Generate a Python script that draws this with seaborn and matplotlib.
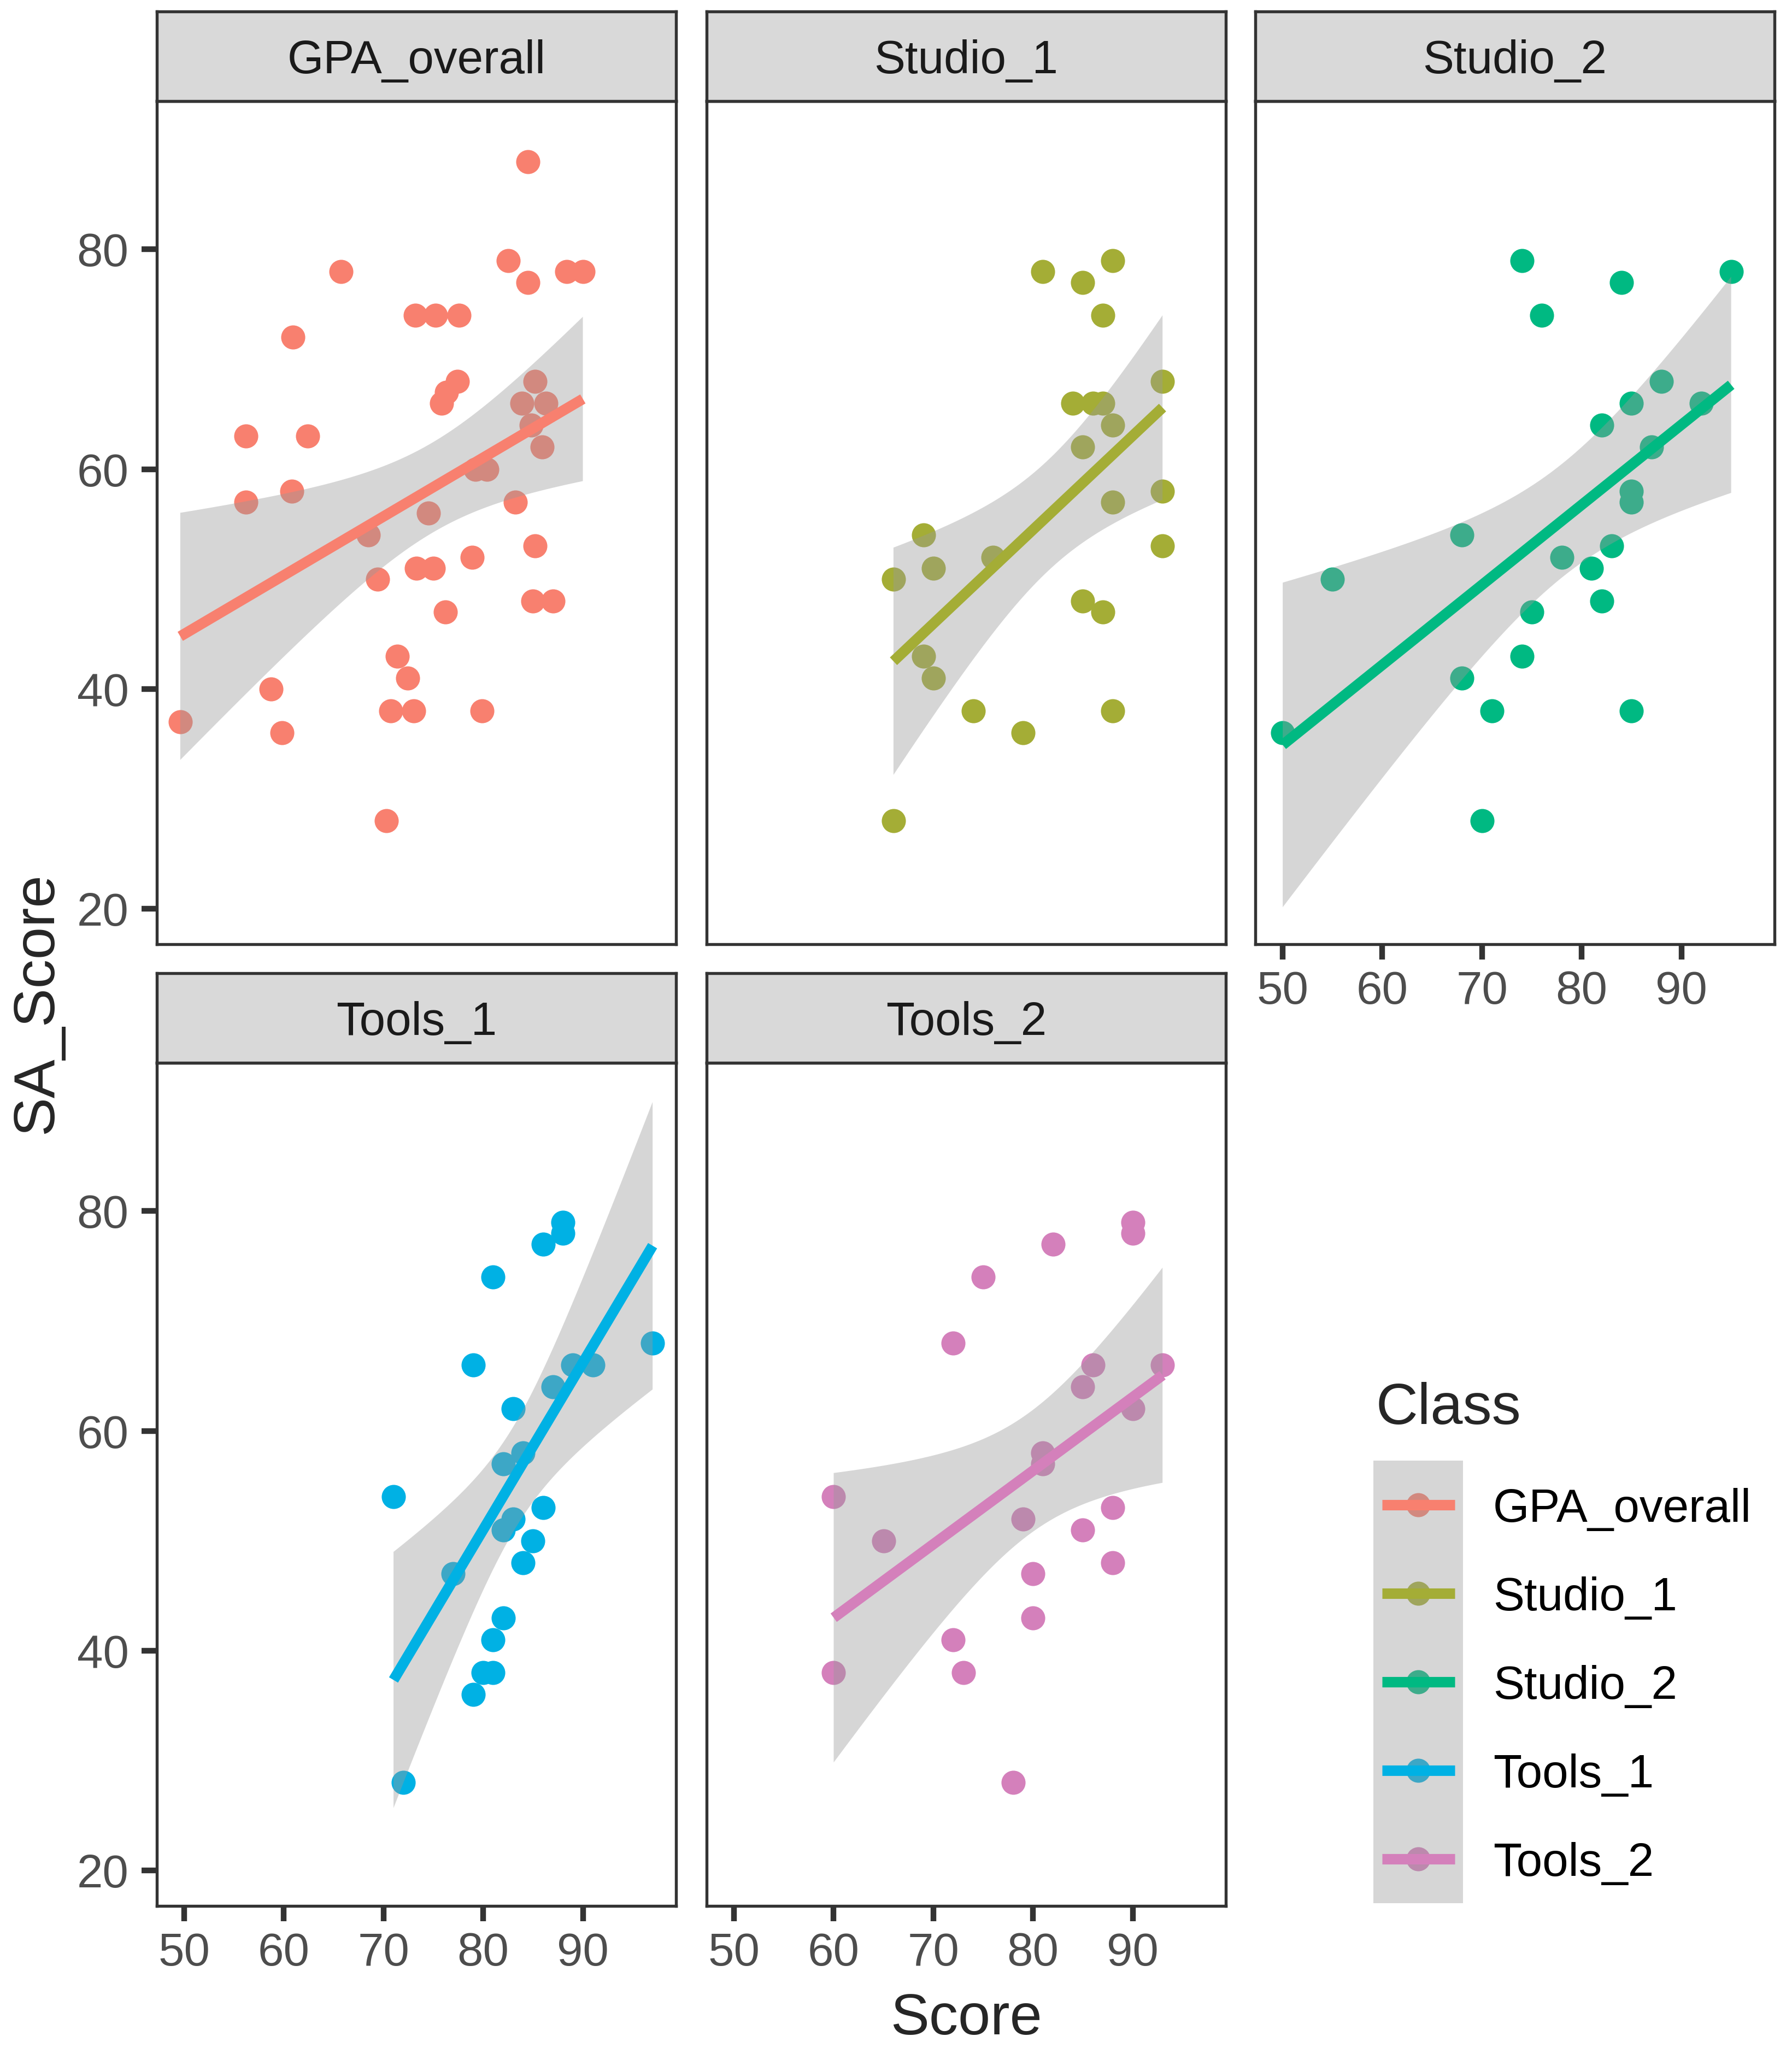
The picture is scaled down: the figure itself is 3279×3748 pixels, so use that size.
import matplotlib.pyplot as plt
import seaborn as sns
import pandas as pd
import numpy as np
from math import gamma, pi, sqrt

classes = ["GPA_overall", "Studio_1", "Studio_2", "Tools_1", "Tools_2"]
colors = ["#F8806F", "#A4AD36", "#00B982", "#00B1E4", "#D480BB"]

gpa_score = [84.5, 65.75, 82.5, 84.5, 88.4, 90.0, 73.2, 75.2, 77.6, 60.9, 77.4,
             76.3, 75.8, 85.2, 83.9, 86.3, 84.8, 85.9, 56.2, 62.4, 79.2, 80.4,
             56.2, 60.8, 83.2, 74.5, 68.5, 69.4, 73.3, 75.0, 78.9, 85.2, 85.0,
             87.0, 76.2, 71.4, 72.4, 70.7, 73.0, 79.9, 58.7, 59.8, 49.6, 70.3]
gpa_sa = [88, 78, 79, 77, 78, 78, 74, 74, 74, 72, 68,
          67, 66, 68, 66, 66, 64, 62, 63, 63, 60, 60,
          57, 58, 57, 56, 54, 50, 51, 51, 52, 53, 48,
          48, 47, 43, 41, 38, 38, 38, 40, 36, 37, 28]

studio1_score = [81, 85, 88, 87, 93, 84, 86, 87, 88, 85, 93, 88, 93,
                 69, 76, 70, 66, 85, 87, 69, 70, 74, 88, 79, 66]
studio1_sa = [78, 77, 79, 74, 68, 66, 66, 66, 64, 62, 58, 57, 53,
              54, 52, 51, 50, 48, 47, 43, 41, 38, 38, 36, 28]

studio2_score = [74, 84, 76, 95, 88, 85, 92, 82, 87, 85, 85, 68,
                 55, 78, 83, 81, 82, 75, 74, 68, 71, 85, 50, 70]
studio2_sa = [79, 77, 74, 78, 68, 66, 66, 64, 62, 58, 57, 54,
              50, 52, 53, 51, 48, 47, 43, 41, 38, 38, 36, 28]

tools1_score = [88, 88, 86, 81, 97, 79, 89, 91, 87, 83, 84, 82, 71,
                86, 83, 82, 85, 84, 77, 82, 81, 80, 81, 79, 72]
tools1_sa = [79, 78, 77, 74, 68, 66, 66, 66, 64, 62, 58, 57, 54,
             53, 52, 51, 50, 48, 47, 43, 41, 38, 38, 36, 28]

tools2_score = [90, 90, 82, 75, 72, 86, 93, 85, 90, 81, 81, 60,
                79, 88, 85, 65, 88, 80, 80, 72, 60, 73, 78]
tools2_sa = [79, 78, 77, 74, 68, 66, 66, 64, 62, 58, 57, 54,
             52, 53, 51, 50, 48, 47, 43, 41, 38, 38, 28]

scores = [gpa_score, studio1_score, studio2_score, tools1_score, tools2_score]
sa_scores = [gpa_sa, studio1_sa, studio2_sa, tools1_sa, tools2_sa]

df = pd.concat(
    [pd.DataFrame({"Score": s, "SA_Score": a, "Class": c})
     for s, a, c in zip(scores, sa_scores, classes)],
    ignore_index=True,
)


def t_quantile(dof, q=0.975):
    # t distribution quantile by integrating the density
    t = np.linspace(0, 12, 40001)
    c = gamma((dof + 1) / 2) / (sqrt(dof * pi) * gamma(dof / 2))
    pdf = c * (1 + t ** 2 / dof) ** (-(dof + 1) / 2)
    cdf = 0.5 + np.concatenate([[0], np.cumsum((pdf[1:] + pdf[:-1]) / 2 * np.diff(t))])
    return np.interp(q, cdf, t)


def lm_band(x, y, grid):
    # analytic 95% confidence band of a linear fit (like geom_smooth(method="lm"))
    x, y = np.asarray(x, float), np.asarray(y, float)
    n = len(x)
    b, a = np.polyfit(x, y, 1)
    resid = y - (a + b * x)
    s = np.sqrt(np.sum(resid ** 2) / (n - 2))
    sxx = np.sum((x - x.mean()) ** 2)
    se = s * np.sqrt(1 / n + (grid - x.mean()) ** 2 / sxx)
    fit = a + b * grid
    tq = t_quantile(n - 2)
    return fit - tq * se, fit + tq * se


sns.set_style("ticks")
plt.rcParams["font.family"] = ["Liberation Sans", "DejaVu Sans"]

g = sns.lmplot(
    data=df, x="Score", y="SA_Score", hue="Class", col="Class", col_wrap=3,
    hue_order=classes, col_order=classes, palette=dict(zip(classes, colors)),
    ci=None, legend=False, height=4, aspect=0.62,
    scatter_kws={"s": 112, "linewidths": 0, "alpha": 1},
    line_kws={"linewidth": 4.6, "solid_capstyle": "butt"},
    facet_kws={"despine": False, "sharex": True, "sharey": True},
)
fig = g.figure
W, H = 3279, 3748
fig.set_size_inches(W / 300, H / 300)

g.set(xlim=(47.25, 99.35), ylim=(16.8, 93.5),
      xticks=[50, 60, 70, 80, 90], yticks=[20, 40, 60, 80])

lefts = [287, 1293, 2297]
tops = [185, 1945]
pw, ph = 950, 1542.5
strip_h = 164

for i, (ax, name) in enumerate(zip(g.axes.flat, classes)):
    r, c = divmod(i, 3)
    ax.set_position([lefts[c] / W, 1 - (tops[r] + ph) / H, pw / W, ph / H])
    ax.set_title("")
    ax.set_xlabel("")
    ax.set_ylabel("")

    # grey confidence ribbon over the points, under the line
    xs, ys = scores[i], sa_scores[i]
    grid = np.linspace(min(xs), max(xs), 100)
    lo, hi = lm_band(xs, ys, grid)
    ax.fill_between(grid, lo, hi, facecolor="#999999", edgecolor="none",
                    alpha=0.4, zorder=1.5)

    ax.tick_params(axis="both", length=6.8, width=2.5, color="#333333",
                   labelcolor="#4D4D4D", labelsize=20.5)
    ax.tick_params(axis="x", pad=4.5)
    ax.tick_params(axis="y", pad=5.5)
    if i in (0, 1):
        ax.tick_params(axis="x", length=0, labelbottom=False)
    else:
        ax.tick_params(axis="x", labelbottom=True)
    if c != 0:
        ax.tick_params(axis="y", length=0, labelleft=False)
    for sp in ax.spines.values():
        sp.set_color("#333333")
        sp.set_linewidth(1.3)

    strip = ax.inset_axes([0, 1, 1, strip_h / ph])
    strip.set_facecolor("#D9D9D9")
    strip.set_xticks([])
    strip.set_yticks([])
    for sp in strip.spines.values():
        sp.set_color("#333333")
        sp.set_linewidth(1.3)
    strip.text(0.5, 0.31, name, ha="center", va="baseline", fontsize=20.5,
               color="#1A1A1A", transform=strip.transAxes)

# legend
lax = fig.add_axes([2513 / W, 1 - 3483 / H, 164 / W, 810 / H])
lax.set_xlim(0, 1)
lax.set_ylim(0, 5)
lax.axis("off")
for k, (name, col) in enumerate(zip(classes, colors)):
    yk = 4.5 - k
    lax.scatter([0.5], [yk], s=112, color=col, linewidths=0, zorder=1)
    lax.plot([0.098, 0.909], [yk, yk], color=col, lw=4.6,
             solid_capstyle="butt", zorder=3)
    fig.text(2732 / W, 1 - (2754 + 162 * k + 31) / H, name,
             fontsize=20.5, va="baseline", color="black")
lax.add_patch(plt.Rectangle((0, 0), 1, 5, facecolor="#999999", alpha=0.4,
                            edgecolor="none", zorder=2))
fig.text(2518 / W, 1 - 2606 / H, "Class", fontsize=25.5, va="baseline")

fig.text(1768 / W, 1 - 3723 / H, "Score", ha="center", va="baseline",
         fontsize=25.5)
fig.text(95 / W, 1 - 1836 / H, "SA_Score", rotation=90, rotation_mode="anchor",
         ha="center", va="baseline", fontsize=25.5)

fig.savefig("out.png", dpi=300, facecolor="white")
